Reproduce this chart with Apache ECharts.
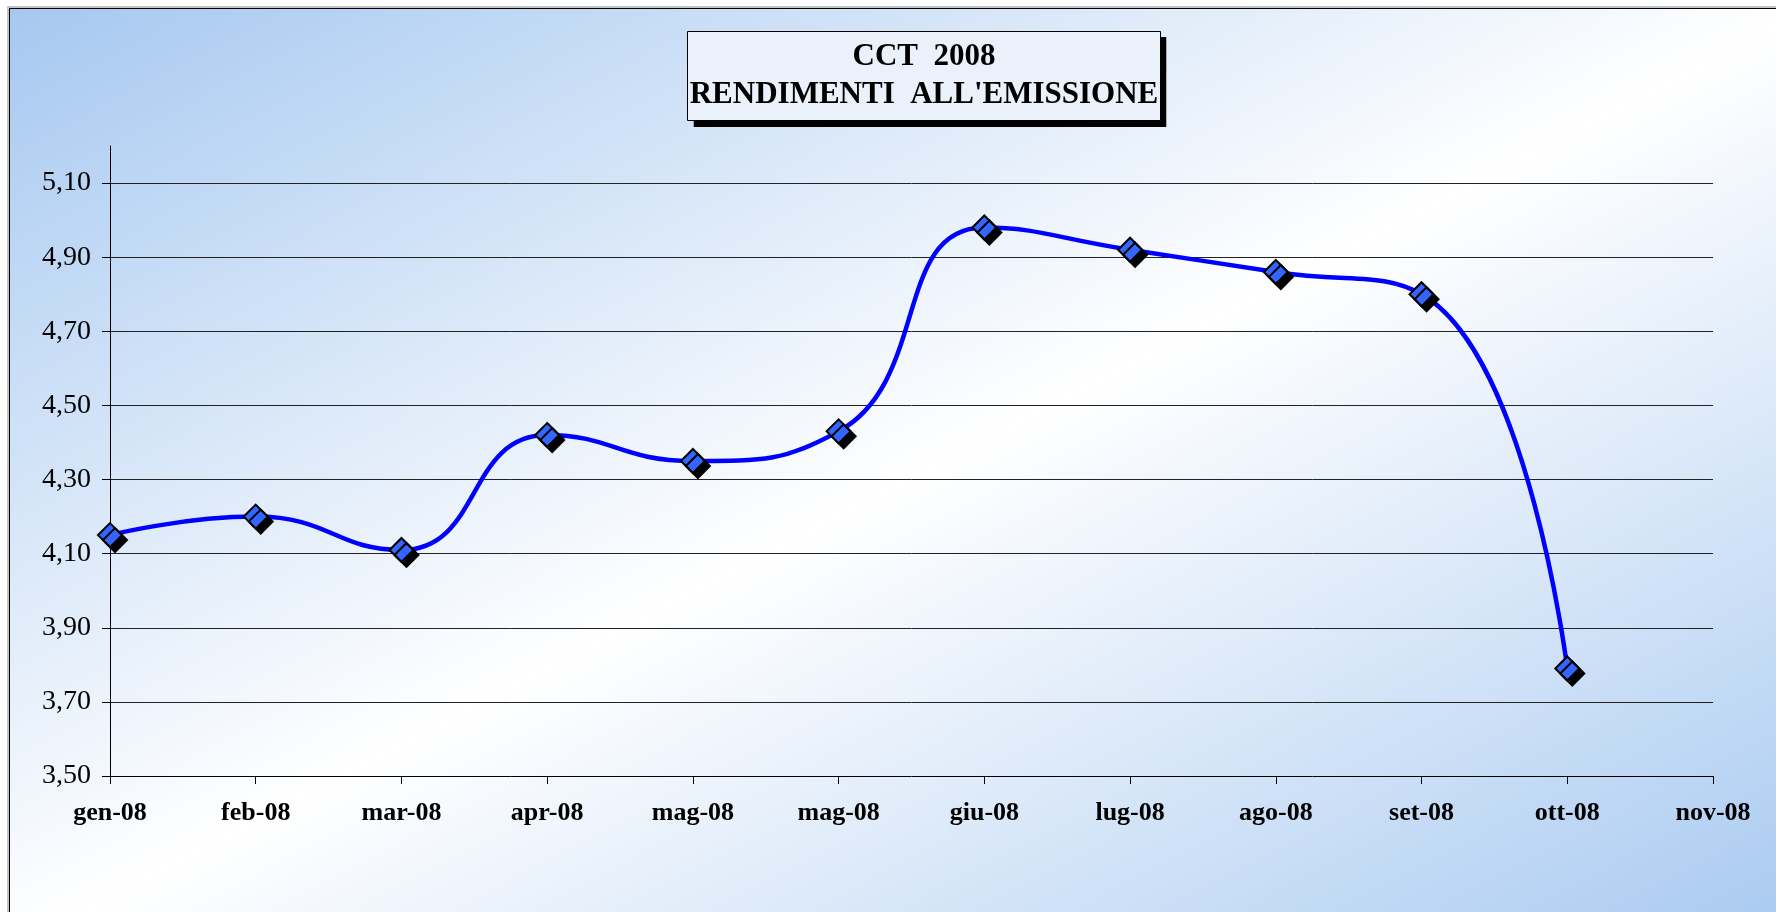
<!DOCTYPE html>
<html>
<head>
<meta charset="utf-8">
<title>CCT 2008 - Rendimenti all'emissione</title>
<script src="https://cdn.jsdelivr.net/npm/echarts@6/dist/echarts.min.js"></script>
<style>
  html, body { margin: 0; padding: 0; width: 1776px; height: 912px; overflow: hidden; background: #fff; }
  #frame {
    position: absolute; left: 9px; top: 8px; width: 1800px; height: 940px;
    border-left: 1px solid #000; border-top: 1px solid #000;
    box-shadow: -2px -2px 0 #c4c4c4;
    background: linear-gradient(to bottom right, #a6c8f0 0%, #ffffff 50%, #a6c8f0 100%);
  }
  #chart { position: absolute; left: 0; top: 0; width: 1776px; height: 912px; }
</style>
</head>
<body>
<div id="frame"></div>
<div id="chart"></div>
<script>
// categorie (mesi) e rendimenti
const months = ['gen-08', 'feb-08', 'mar-08', 'apr-08', 'mag-08', 'mag-08',
  'giu-08', 'lug-08', 'ago-08', 'set-08', 'ott-08', 'nov-08']
const yields = [4.15, 4.20, 4.11, 4.42, 4.35, 4.43, 4.98, 4.92, 4.86, 4.80, 3.79]
const yTicks = [3.5, 3.7, 3.9, 4.1, 4.3, 4.5, 4.7, 4.9, 5.1]

const chart = echarts.init(document.getElementById('chart'))
const serif = "'Liberation Serif', 'Times New Roman', serif"
const titleText = "CCT  2008\nRENDIMENTI  ALL'EMISSIONE"

const titleBase = {
  text: titleText,
  left: 922,
  top: 31,
  padding: [7, 2, 7, 2],
  textAlign: 'center',
  textStyle: {
    fontFamily: serif,
    fontWeight: 'bold',
    fontSize: 31,
    lineHeight: 38,
    color: '#000'
  }
}

const option = {
  backgroundColor: 'transparent',
  animation: false,
  title: [
    // riquadro con ombra
    {
      ...titleBase,
      backgroundColor: '#eaf1fb',
      shadowColor: '#000',
      shadowBlur: 0,
      shadowOffsetX: 6,
      shadowOffsetY: 6
    },
    // bordo sottile
    {
      ...titleBase,
      textStyle: { ...titleBase.textStyle, color: 'transparent' },
      backgroundColor: 'transparent',
      borderColor: '#000',
      borderWidth: 1
    }
  ],
  grid: {
    left: 110,
    right: 63,
    top: 146,
    bottom: 136,
    containLabel: false
  },
  xAxis: {
    type: 'category',
    data: months,
    boundaryGap: false,
    axisLine: { lineStyle: { color: '#000', width: 1 } },
    axisTick: { show: true, length: 8, inside: false, lineStyle: { color: '#000' } },
    axisLabel: {
      margin: 24,
      interval: 0,
      fontFamily: serif,
      fontWeight: 'bold',
      fontSize: 26,
      color: '#000'
    },
    splitLine: { show: false }
  },
  yAxis: {
    type: 'value',
    min: 3.5,
    max: 5.2,
    interval: 0.2,
    axisLine: { show: true, lineStyle: { color: '#000', width: 1 } },
    axisTick: { show: true, length: 8, inside: false, customValues: yTicks, lineStyle: { color: '#000' } },
    axisLabel: {
      customValues: yTicks,
      margin: 19,
      fontFamily: serif,
      fontSize: 28,
      color: '#000',
      formatter: v => v.toFixed(2).replace('.', ',')
    },
    splitLine: {
      show: true,
      showMinLine: false,
      lineStyle: { color: '#222', width: 1 }
    }
  },
  series: [
    {
      name: 'CCT 2008',
      type: 'line',
      data: yields,
      smooth: 0.5,
      symbol: 'diamond',
      symbolSize: 24,
      lineStyle: { color: '#0000ff', width: 4.5 },
      itemStyle: {
        color: '#3366ff',
        borderColor: '#000',
        borderWidth: 2,
        shadowColor: '#000',
        shadowBlur: 0,
        shadowOffsetX: 5,
        shadowOffsetY: 5
      },
      z: 3
    }
  ]
}

chart.setOption(option)
</script>
</body>
</html>
